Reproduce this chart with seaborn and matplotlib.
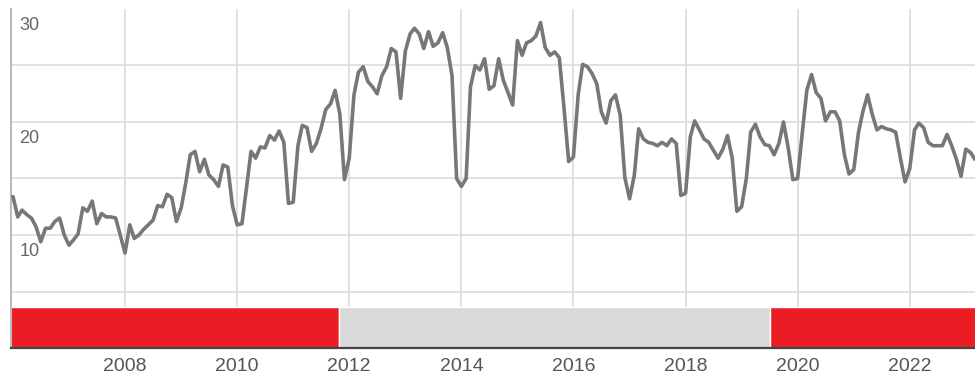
import pandas as pd
import numpy as np
import seaborn as sns
import matplotlib.pyplot as plt
import matplotlib.dates as mdates
from matplotlib.transforms import ScaledTranslation

# monthly values, Jan 2006 .. Mar 2023
start_month = "2006-01-01"
values = [
    13.4, 11.6, 12.2, 11.8, 11.5, 10.7, 9.4, 10.6, 10.6, 11.2, 11.5, 10.0,
    9.1, 9.6, 10.1, 12.4, 12.1, 13.0, 11.0, 11.9, 11.6, 11.6, 11.5, 10.0,
    8.4, 10.9, 9.7, 10.0, 10.5, 10.9, 11.3, 12.6, 12.5, 13.6, 13.3, 11.2,
    12.4, 14.7, 17.1, 17.4, 15.6, 16.7, 15.3, 14.9, 14.3, 16.2, 16.0, 12.6,
    10.9, 11.0, 14.0, 17.4, 16.8, 17.8, 17.7, 18.8, 18.4, 19.2, 18.2, 12.8,
    12.9, 17.9, 19.7, 19.5, 17.4, 18.1, 19.4, 21.1, 21.6, 22.8, 20.7, 14.9,
    16.8, 22.4, 24.4, 24.9, 23.6, 23.1, 22.5, 24.1, 24.9, 26.5, 26.2, 22.1,
    26.3, 27.8, 28.3, 27.8, 26.5, 28.0, 26.7, 27.0, 27.9, 26.6, 24.1, 15.0,
    14.3, 15.0, 23.1, 25.0, 24.6, 25.6, 22.9, 23.2, 25.6, 23.7, 22.6, 21.5,
    27.2, 25.9, 27.0, 27.2, 27.6, 28.8, 26.6, 25.9, 26.2, 25.7, 21.2, 16.5,
    16.9, 22.4, 25.1, 24.9, 24.3, 23.4, 20.9, 19.9, 21.9, 22.4, 20.6, 15.1,
    13.2, 15.3, 19.4, 18.5, 18.2, 18.1, 17.9, 18.2, 17.9, 18.5, 18.1, 13.5,
    13.7, 18.7, 20.1, 19.3, 18.5, 18.2, 17.5, 16.8, 17.6, 18.8, 16.8, 12.1,
    12.5, 15.0, 19.1, 19.8, 18.7, 18.0, 17.9, 17.1, 18.1, 20.0, 17.7, 14.9,
    15.0, 19.1, 22.8, 24.2, 22.6, 22.1, 20.1, 20.9, 20.9, 20.1, 17.1, 15.4,
    15.8, 19.1, 20.9, 22.4, 20.7, 19.3, 19.6, 19.4, 19.3, 19.1, 16.8, 14.7,
    15.9, 19.3, 19.9, 19.5, 18.2, 17.9, 17.9, 17.9, 18.9, 17.9, 16.7, 15.2,
    17.6, 17.3, 16.7,
]

# regime band underneath the line
band_starts = ["2005-12-01", "2011-10-25", "2019-07-05"]
band_ends = ["2011-10-25", "2019-07-05", "2023-06-01"]
band_colors = ["#ec1c24", "#d9d9d9", "#ec1c24"]

year_ticks = [2008, 2010, 2012, 2014, 2016, 2018, 2020, 2022]
y_grid = [5, 10, 15, 20, 25, 30]
y_labels = ["", "10", "", "20", "", "30"]

df = pd.DataFrame({
    "date": pd.date_range(start_month, periods=len(values), freq="MS"),
    "value": values,
})

sns.set_style("white")
plt.rcParams["font.family"] = ["Liberation Sans Narrow", "Liberation Sans", "DejaVu Sans"]

fig = plt.figure(figsize=(9.75, 3.78), dpi=100)
ax = fig.add_axes([11 / 975, 30 / 378, 964 / 975, 339 / 378])

sns.lineplot(data=df, x="date", y="value", color="#777777", linewidth=2.6, ax=ax, zorder=3)

s = mdates.date2num(pd.to_datetime(band_starts))
e = mdates.date2num(pd.to_datetime(band_ends))
ax.broken_barh(list(zip(s, e - s)), (0, 3.65), facecolors=band_colors, zorder=2)

ax.set_xlim(pd.Timestamp("2005-12-19"), pd.Timestamp("2023-03-02"))
ax.set_ylim(0, 30)

ax.set_xticks([pd.Timestamp(f"{y}-01-01") for y in year_ticks])
ax.set_xticklabels([str(y) for y in year_ticks])
ax.set_yticks(y_grid)
ax.set_yticklabels(y_labels)
ax.grid(True, color="#dedede", linewidth=1.3, zorder=0)
ax.set_axisbelow(True)
# no line along the very top edge
ax.get_ygridlines()[-1].set_visible(False)

ax.tick_params(axis="x", length=0, pad=7, labelsize=14, labelcolor="#555555")
ax.tick_params(axis="y", length=0, pad=-6, labelsize=13, labelcolor="#666666")
for lab in ax.get_yticklabels():
    lab.set_horizontalalignment("left")
    lab.set_transform(lab.get_transform() + ScaledTranslation(0, -0.15, fig.dpi_scale_trans))

ax.set_xlabel("")
ax.set_ylabel("")
for side in ["top", "right"]:
    ax.spines[side].set_visible(False)
ax.spines["left"].set_color("#bbbbbb")
ax.spines["left"].set_linewidth(1.5)
ax.spines["bottom"].set_color("#444444")
ax.spines["bottom"].set_linewidth(1.6)
ax.spines["bottom"].set_zorder(4)

plt.savefig("out.png", dpi=100)
